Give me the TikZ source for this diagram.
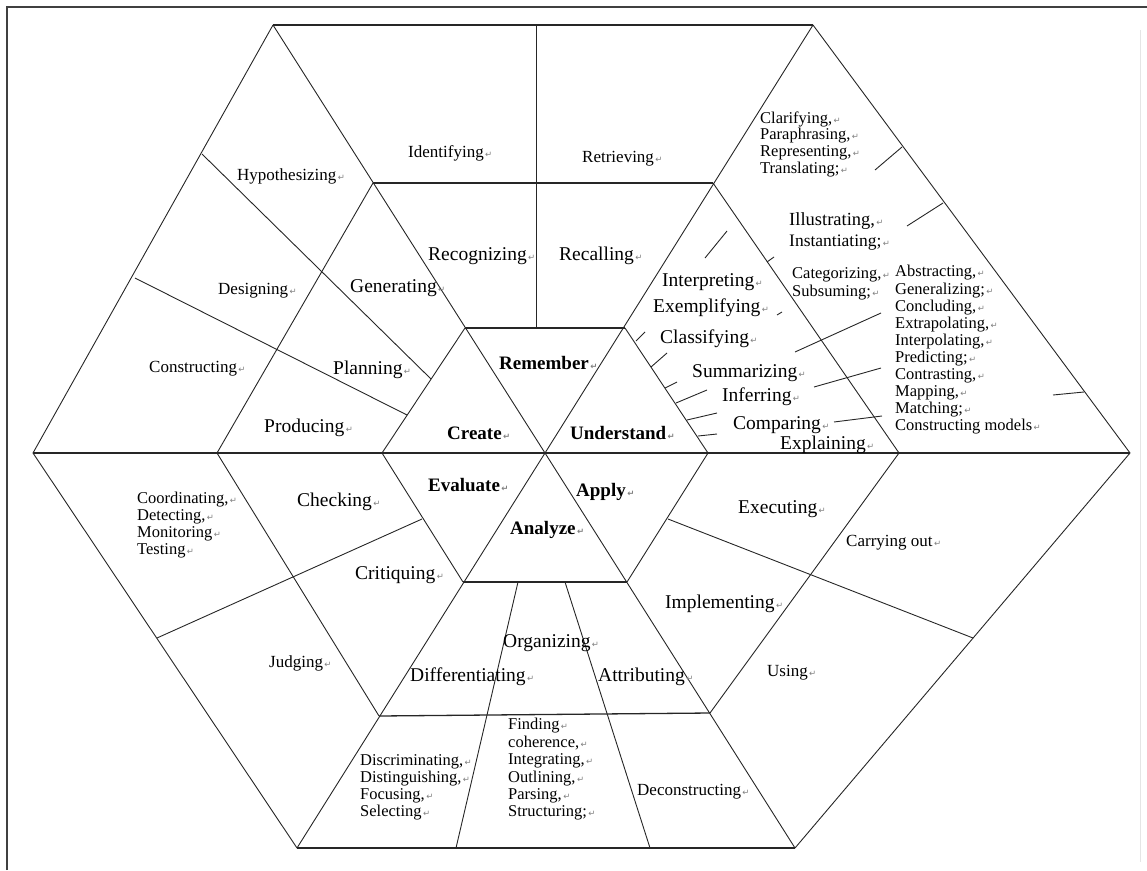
\documentclass[tikz,border=0pt]{standalone}
\usepackage{fontspec}
\setmainfont{Liberation Serif}
\newfontfamily\markfont{DejaVu Sans}
\usetikzlibrary{calc}

% Word paragraph mark after each label
\newcommand{\pmark}{{\markfont\fontsize{8.5}{8.5}\selectfont\color{black!50}\,↵}}

\tikzset{
    edge/.style={black!85, line width=0.9pt},
    hedge/.style={black!85, line width=1.3pt},
    minorlbl/.style={font=\fontsize{17}{17}\selectfont, inner sep=0pt, anchor=west},
    majorlbl/.style={font=\fontsize{19.5}{19.5}\selectfont, inner sep=0pt, anchor=west},
    listlbl/.style={font=\fontsize{16.5}{17}\selectfont, inner sep=0pt, anchor=west},
    levellbl/.style={font=\fontsize{19}{19}\selectfont\bfseries, inner sep=0pt, anchor=west}
}

\begin{document}
\begin{tikzpicture}[x=1pt, y=-1pt]
    \useasboundingbox (0,0) rectangle (1147,870);

    % Page frame
    \draw[black!75, line width=1.5pt] (7,870) -- (7,7) -- (1147,7);
    \draw[black!10, line width=0.8pt] (1140,30) -- (1140,862);

    % Centre and outer hexagon corners
    \coordinate (C)  at (545,453);
    \coordinate (T1) at (273,25);
    \coordinate (T2) at (813,25);
    \coordinate (R)  at (1130,453);
    \coordinate (B2) at (795,848);
    \coordinate (B1) at (297,848);
    \coordinate (L)  at (33,453);

    % Inner hexagon (the six levels)
    \coordinate (i1) at (465,328);
    \coordinate (i2) at (625,328);
    \coordinate (i3) at (708,453);
    \coordinate (i4) at (627,582);
    \coordinate (i5) at (463,582);
    \coordinate (i6) at (382,453);

    % Middle hexagon (processes)
    \coordinate (m1) at (373,183);
    \coordinate (m2) at (713,183);
    \coordinate (m3) at (899,453);
    \coordinate (m4) at (710,713);
    \coordinate (m5) at (379,716);
    \coordinate (m6) at (217,453);

    % Outer outline
    \draw[hedge] (T1) -- (T2);
    \draw[edge] (T2) -- (R) -- (B2);
    \draw[hedge] (B2) -- (B1);
    \draw[edge] (B1) -- (L) -- (T1);

    % Spokes through the centre
    \draw[hedge] (L) -- (R);
    \foreach \p in {T1,T2,B1,B2}
        \draw[edge] (C) -- (\p);

    % Inner and middle hexagons
    \draw[edge] (i2) -- (i3) -- (i4);
    \draw[edge] (i5) -- (i6) -- (i1);
    \draw[hedge] (i1) -- (i2);
    \draw[hedge] (i4) -- (i5);
    \draw[edge] (m2) -- (m3) -- (m4);
    \draw[edge] (m5) -- (m6) -- (m1);
    \draw[hedge] (m1) -- (m2);
    \draw[hedge] (m4) -- (m5);

    % Remember split
    \draw[edge] (536,25) -- (536,328);

    % Create splits
    \draw[edge] (202,154) -- (431,379);
    \draw[edge] (135,278) -- (407,415);

    % Understand strokes
    \foreach \a/\b in {{(875,170)}/{(902,147)}, {(907,226)}/{(943,203)},
                       {(1053,395)}/{(1084,392)}, {(795,352)}/{(881,313)},
                       {(814,387)}/{(881,368)}, {(834,422)}/{(882,416)},
                       {(705,258)}/{(727,231)}, {(777,315)}/{(782,312)},
                       {(767,262)}/{(774,257)}, {(636,341)}/{(645,332)},
                       {(651,367)}/{(667,353)}, {(665,388)}/{(677,382)},
                       {(676,403)}/{(707,390)}, {(687,420)}/{(717,413)},
                       {(698,436)}/{(717,434)}}
        \draw[edge] \a -- \b;

    % Apply split
    \draw[edge] (668,519) -- (973,638);

    % Analyze splits
    \draw[edge] (518,582) -- (456,848);
    \draw[edge] (565,582) -- (650,848);

    % Evaluate split
    \draw[edge] (422,519) -- (157,638);

    % Levels
    \node[levellbl] (rem) at (499,363) {Remember\pmark};
    \node[levellbl] (cre) at (447,433) {Create\pmark};
    \node[levellbl] (und) at (570,433) {Understand\pmark};
    \node[levellbl] (eva) at (428,485) {Evaluate\pmark};
    \node[levellbl] (app) at (576,492) {Apply\pmark};
    \node[levellbl] (ana) at (510,530) {Analyze\pmark};

    % Remember
    \node[minorlbl] (ident) at (408,153) {Identifying\pmark};
    \node[minorlbl] (retr)  at (582,159) {Retrieving\pmark};
    \node[majorlbl] (recog) at (428,256) {Recognizing\pmark};
    \node[majorlbl] (recal) at (559,256) {Recalling\pmark};

    % Create
    \node[minorlbl] (hypo)  at (237,176) {Hypothesizing\pmark};
    \node[minorlbl] (desi)  at (218,291) {Designing\pmark};
    \node[minorlbl] (cons)  at (149,369) {Constructing\pmark};
    \node[majorlbl] (gene)  at (350,288) {Generating\pmark};
    \node[majorlbl] (plan)  at (333,370) {Planning\pmark};
    \node[majorlbl] (prod)  at (264,428) {Producing\pmark};

    % Understand
    \node[majorlbl] (inte) at (662,282) {Interpreting\pmark};
    \node[majorlbl] (exem) at (653,308) {Exemplifying\pmark};
    \node[majorlbl] (clas) at (660,339) {Classifying\pmark};
    \node[majorlbl] (summ) at (692,373) {Summarizing\pmark};
    \node[majorlbl] (infe) at (722,397) {Inferring\pmark};
    \node[majorlbl] (comp) at (733,425) {Comparing\pmark};
    \node[majorlbl] (expl) at (780,445) {Explaining\pmark};
    \foreach \w [count=\i] in {{Clarifying,},{Paraphrasing,},{Representing,},{Translating;}}
        \node[listlbl] (clar\i) at (760,{119+17*(\i-1)}) {\w\pmark};
    \node[listlbl, font=\fontsize{18.5}{18.5}\selectfont] (illu) at (789,221) {Illustrating,\pmark};
    \node[listlbl, font=\fontsize{17.5}{17.5}\selectfont] (inst) at (789,243) {Instantiating;\pmark};
    \foreach \w [count=\i] in {{Categorizing,},{Subsuming;}}
        \node[listlbl] (cate\i) at (792,{275+18*(\i-1)}) {\w\pmark};
    \foreach \w [count=\i] in {{Abstracting,},{Generalizing;},{Concluding,},{Extrapolating,},
                               {Interpolating,},{Predicting;},{Contrasting,},{Mapping,},
                               {Matching;},{Constructing models}}
        \node[listlbl] (abst\i) at (895,{273+17.1*(\i-1)}) {\w\pmark};

    % Evaluate
    \foreach \w [count=\i] in {{Coordinating,},{Detecting,},{Monitoring},{Testing}}
        \node[listlbl] (coor\i) at (137,{500+17*(\i-1)}) {\w\pmark};
    \node[majorlbl] (chec) at (297,502) {Checking\pmark};
    \node[majorlbl] (crit) at (355,575) {Critiquing\pmark};
    \node[minorlbl] (judg) at (269,663) {Judging\pmark};

    % Analyze
    \node[majorlbl] (orga) at (503,643) {Organizing\pmark};
    \node[majorlbl] (diff) at (410,677) {Differentiating\pmark};
    \node[majorlbl] (attr) at (598,677) {Attributing\pmark};
    \foreach \w [count=\i] in {{Discriminating,},{Distinguishing,},{Focusing,},{Selecting}}
        \node[listlbl] (disc\i) at (360,{762+17*(\i-1)}) {\w\pmark};
    \foreach \w [count=\i] in {{Finding},{coherence,},{Integrating,},{Outlining,},{Parsing,},{Structuring;}}
        \node[listlbl] (find\i) at (508,{726+17.4*(\i-1)}) {\w\pmark};
    \node[minorlbl] (deco) at (637,792) {Deconstructing\pmark};

    % Apply
    \node[majorlbl] (exec) at (738,509) {Executing\pmark};
    \node[majorlbl] (impl) at (665,604) {Implementing\pmark};
    \node[minorlbl] (carr) at (846,543) {Carrying out\pmark};
    \node[minorlbl] (usin) at (767,673) {Using\pmark};
\end{tikzpicture}
\end{document}
